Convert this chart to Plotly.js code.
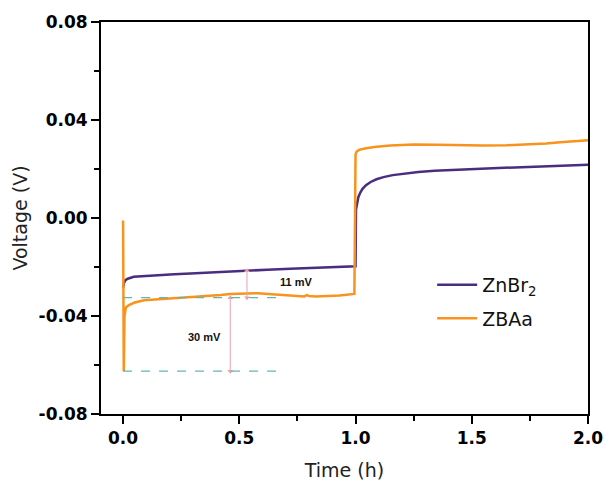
<!DOCTYPE html>
<html>
<head>
<meta charset="utf-8">
<script src="https://cdn.plot.ly/plotly-3.0.1.min.js"></script>
<style>
  html, body { margin: 0; padding: 0; background: #ffffff; }
  #chart { width: 606px; height: 488px; }
</style>
</head>
<body>
<div id="chart"></div>
<script>
// Galvanostatic voltage profiles (V) vs time (h)
const seriesNames = ['ZnBr<sub>2</sub>', 'ZBAa'];
const seriesColors = ['#4a2d7f', '#f7931e'];

const timeZnBr2 = [0.000, 0.004, 0.010, 0.020, 0.046, 0.100, 0.146, 0.220, 0.290, 0.400, 0.505, 0.620, 0.720, 0.850, 0.995,
                   1.000, 1.002, 1.006, 1.012, 1.020, 1.030, 1.045, 1.065, 1.090, 1.120, 1.160, 1.210, 1.270, 1.340, 1.420, 1.520, 1.640, 1.800, 2.000];
const voltZnBr2 = [-0.0285, -0.0265, -0.0254, -0.0248, -0.0240, -0.0236, -0.0233, -0.0230, -0.0227, -0.0221, -0.0215, -0.0211, -0.0207, -0.0202, -0.0197,
                   -0.0197, 0.0035, 0.0062, 0.0085, 0.0103, 0.0119, 0.0134, 0.0147, 0.0158, 0.0167, 0.0175, 0.0182, 0.0188, 0.0193, 0.0197, 0.0201, 0.0205, 0.0210, 0.0217];

const timeZBAa = [0.000, 0.003, 0.006, 0.012, 0.025, 0.050, 0.090, 0.150, 0.220, 0.290, 0.360, 0.420, 0.460, 0.520, 0.580, 0.640, 0.700, 0.750, 0.780, 0.790, 0.800, 0.830, 0.880, 0.930, 0.995,
                  1.000, 1.004, 1.015, 1.040, 1.080, 1.150, 1.250, 1.350, 1.450, 1.550, 1.650, 1.750, 1.820, 1.880, 1.940, 2.000];
const voltZBAa = [-0.0010, -0.0625, -0.0400, -0.0365, -0.0355, -0.0345, -0.0336, -0.0332, -0.0328, -0.0324, -0.0320, -0.0314, -0.0310, -0.0308, -0.0307, -0.0311, -0.0314, -0.0317, -0.0320, -0.0315, -0.0318, -0.0320, -0.0319, -0.0316, -0.0310,
                  0.0259, 0.0270, 0.0278, 0.0284, 0.0290, 0.0296, 0.0300, 0.0299, 0.0297, 0.0296, 0.0297, 0.0300, 0.0304, 0.0309, 0.0313, 0.0317];

// Reference levels (V) and the marked voltage gaps (mV)
const spikeLow = -0.0625;
const plateauLevel = -0.0325;
const gapLabels = ['30 mV', '11 mV'];
const gapValues = [30, 11];
const gapTimes = [0.461, 0.533];
const gapTextPos = [[0.35, -0.0484], [0.745, -0.0262]];
const guideEnd = 0.677;

// Axis ticks
const yTickVals = [-0.08, -0.04, 0.00, 0.04, 0.08];
const yTickText = ['-0.08', '-0.04', '0.00', '0.04', '0.08'];
const xTickVals = [0.0, 0.5, 1.0, 1.5, 2.0];
const xTickText = ['0.0', '0.5', '1.0', '1.5', '2.0'];

const traces = [
  { x: timeZnBr2, y: voltZnBr2, name: seriesNames[0], type: 'scatter', mode: 'lines',
    legendgroup: 'a', line: { color: seriesColors[0], width: 2.5 } },
  { x: timeZBAa, y: voltZBAa, name: seriesNames[1], type: 'scatter', mode: 'lines',
    legendgroup: 'b', line: { color: seriesColors[1], width: 2.5 } }
];

// Double-headed gap arrows: 30 mV up from the spike minimum, 11 mV up from the plateau
const gapBases = [spikeLow, plateauLevel];
gapBases.forEach((base, i) => {
  traces.push({
    x: [gapTimes[i], gapTimes[i]], y: [base, base + gapValues[i] / 1000],
    type: 'scatter', mode: 'lines+markers', showlegend: false, hoverinfo: 'skip',
    line: { color: '#e8a1ab', width: 1 },
    marker: { symbol: ['triangle-down', 'triangle-up'], size: 5, color: '#e8a1ab' }
  });
});

const guideLevels = [plateauLevel, spikeLow];
const shapes = guideLevels.map(v => ({
  type: 'line', xref: 'x', yref: 'y', x0: 0, x1: guideEnd, y0: v, y1: v,
  line: { color: '#62b6b2', width: 1.2, dash: 'dash' }
}));

const annotations = gapLabels.map((label, i) => ({
  xref: 'x', yref: 'y', x: gapTextPos[i][0], y: gapTextPos[i][1],
  text: '<b>' + label + '</b>', showarrow: false,
  font: { family: 'Liberation Sans, Arial, sans-serif', size: 11, color: '#111' }
}));

const axisCommon = {
  showline: true, mirror: true, linecolor: '#000', linewidth: 2,
  ticks: 'outside', ticklen: 8, tickwidth: 2, tickcolor: '#000',
  showgrid: false, zeroline: false,
  tickfont: { family: 'DejaVu Sans, sans-serif', size: 17, color: '#000', weight: 'bold' },
  title: { font: { family: 'DejaVu Sans, sans-serif', size: 19, color: '#222' } }
};

const layout = {
  width: 606, height: 488,
  margin: { l: 101, r: 18, t: 22, b: 74 },
  paper_bgcolor: '#ffffff', plot_bgcolor: '#ffffff',
  showlegend: true,
  legend: {
    x: 0.68, y: 0.378, xanchor: 'left', yanchor: 'top',
    bgcolor: 'rgba(0,0,0,0)', itemwidth: 40, tracegroupgap: 6,
    font: { family: 'DejaVu Sans, sans-serif', size: 19, color: '#111' }
  },
  xaxis: Object.assign({}, axisCommon, {
    range: [-0.095, 2.0],
    tickvals: xTickVals, ticktext: xTickText,
    minor: { ticks: 'outside', ticklen: 5, tickwidth: 2, tickcolor: '#000', dtick: 0.25, tick0: 0 },
    title: Object.assign({}, axisCommon.title, { text: 'Time (h)', standoff: 16 })
  }),
  yaxis: Object.assign({}, axisCommon, {
    range: [-0.08, 0.08],
    tickvals: yTickVals, ticktext: yTickText,
    minor: { ticks: 'outside', ticklen: 5, tickwidth: 2, tickcolor: '#000', dtick: 0.02, tick0: 0 },
    title: Object.assign({}, axisCommon.title, { text: 'Voltage (V)', standoff: 6 })
  }),
  shapes: shapes,
  annotations: annotations
};

Plotly.newPlot('chart', traces, layout, { displayModeBar: false, staticPlot: true });
</script>
</body>
</html>
